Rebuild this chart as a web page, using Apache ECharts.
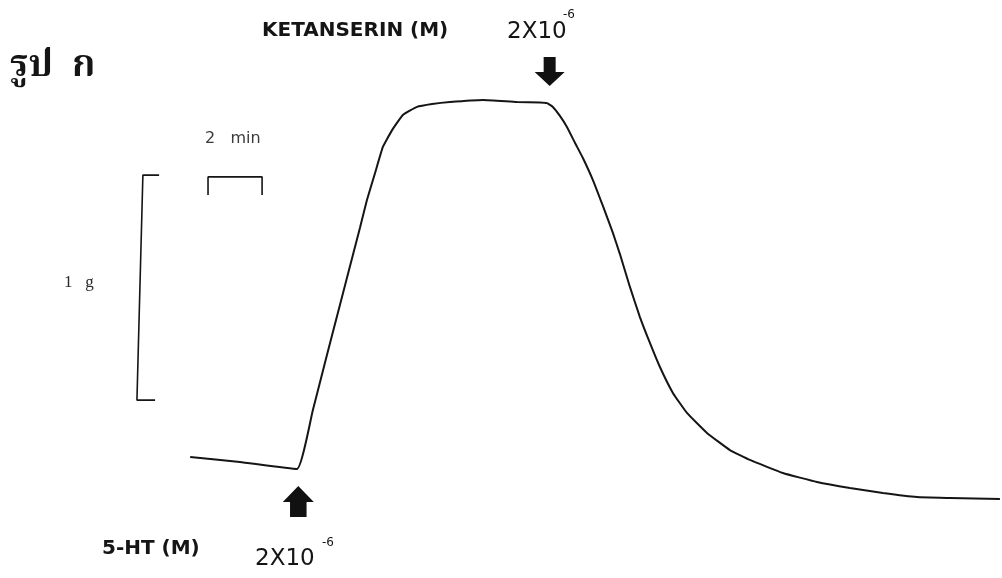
<!DOCTYPE html>
<html>
<head>
<meta charset="utf-8">
<script src="https://cdn.jsdelivr.net/npm/echarts@6/dist/echarts.min.js"></script>
<style>
  html, body { margin: 0; padding: 0; background: #ffffff; }
  #chart { width: 1002px; height: 578px; }
</style>
</head>
<body>
<div id="chart"></div>
<script>
// Isometric tension trace: time in minutes, tension in grams.
const traceTime = [0.0, 1.84, 3.95, 4.54, 5.06, 5.54, 6.02, 6.28, 6.54, 6.84, 7.13, 7.47, 7.87, 8.39,
  8.95, 9.61, 10.83, 12.09, 12.94, 13.20, 13.42, 13.68, 13.94, 14.24, 14.53, 14.90, 15.27, 15.64,
  15.90, 16.27, 16.64, 17.01, 17.38, 17.86, 18.38, 19.12, 19.97, 20.71, 21.93, 23.19, 24.41,
  25.63, 26.89, 28.11, 29.96];
const traceGrams = [0.191, 0.169, 0.138, 0.400, 0.644, 0.867, 1.089, 1.209, 1.333, 1.453, 1.569, 1.644, 1.711, 1.747,
  1.760, 1.769, 1.778, 1.769, 1.767, 1.764, 1.747, 1.707, 1.658, 1.587, 1.520, 1.422, 1.307, 1.187,
  1.093, 0.947, 0.813, 0.698, 0.591, 0.476, 0.387, 0.298, 0.222, 0.178, 0.120, 0.080, 0.053,
  0.031, 0.013, 0.009, 0.004];

// Calibration bars: 1 g (vertical) and 2 min (horizontal)
const gramBarTime = [-1.15, -1.75, -1.97, -1.30];
const gramBarGrams = [1.444, 1.444, 0.444, 0.444];
const minuteBarTime = [0.66, 0.66, 2.66, 2.66];
const minuteBarGrams = [1.356, 1.436, 1.436, 1.356];

// Drug additions: time (min) and marker level (g)
const serotoninAdd = [4.0, -0.007];
const ketanserinAdd = [13.3, 1.904];

// Text
const figureTitle = 'รูป  ก';
const ketanserinLabel = 'KETANSERIN (M)';
const serotoninLabel = '5-HT (M)';
const doseBase = '2X10';
const doseExp = '-6';
const timeBarLabel = '2   min';
const gramBarLabel = '1   g';

const zip = (a, b) => a.map((v, i) => [v, b[i]]);
const ink = '#151515';

const upArrow = 'path://M15,0 L30,16 L23,16 L23,31 L7,31 L7,16 L0,16 Z';
const downArrow = 'path://M9,0 L21,0 L21,15 L30,15 L15,29 L0,15 L9,15 Z';

const chart = echarts.init(document.getElementById('chart'), null, { renderer: 'canvas' });

function txt(text, x, y, font, fill) {
  return {
    type: 'text', x: x, y: y, silent: true,
    style: { text: text, font: font, fill: fill || ink, verticalAlign: 'middle', align: 'left' }
  };
}

chart.setOption({
  backgroundColor: '#ffffff',
  animation: false,
  grid: { left: 1, right: 1, top: 5, bottom: 33 },
  xAxis: { type: 'value', min: -7, max: 30, show: false },
  yAxis: { type: 'value', min: -0.2, max: 2.2, show: false },
  series: [
    {
      type: 'line', data: zip(traceTime, traceGrams), showSymbol: false,
      smooth: 0.12, clip: false,
      lineStyle: { color: ink, width: 2 }
    },
    {
      type: 'line', data: zip(gramBarTime, gramBarGrams), showSymbol: false, clip: false,
      lineStyle: { color: ink, width: 1.6 }
    },
    {
      type: 'line', data: zip(minuteBarTime, minuteBarGrams), showSymbol: false, clip: false,
      lineStyle: { color: ink, width: 1.6 }
    },
    {
      type: 'scatter', data: [serotoninAdd], symbol: upArrow, symbolSize: [31, 31],
      clip: false, itemStyle: { color: '#111111', opacity: 1 }
    },
    {
      type: 'scatter', data: [ketanserinAdd], symbol: downArrow, symbolSize: [30, 29],
      clip: false, itemStyle: { color: '#111111', opacity: 1 }
    }
  ],
  graphic: [
    txt(figureTitle, 10, 70, 'bold 37px "Noto Serif Thai", "Noto Sans Thai", Loma, Garuda, serif'),
    txt(ketanserinLabel, 262, 31, 'bold 20px "DejaVu Sans"'),
    txt(doseBase, 507, 32, '23px "DejaVu Sans"'),
    txt(doseExp, 563, 15, '12px "DejaVu Sans"'),
    txt(timeBarLabel, 205, 139, '16px "DejaVu Sans"', '#3a3a3a'),
    txt(gramBarLabel, 64, 283, '17px "Liberation Serif"', '#2a2a2a'),
    txt(serotoninLabel, 102, 549, 'bold 20px "DejaVu Sans"'),
    txt(doseBase, 255, 559, '23px "DejaVu Sans"'),
    txt(doseExp, 322, 543, '12px "DejaVu Sans"')
  ]
});
</script>
</body>
</html>
